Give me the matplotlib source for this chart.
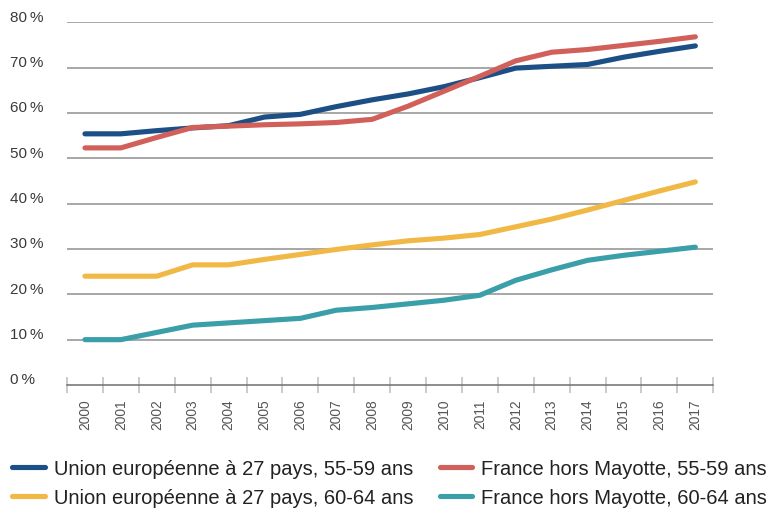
import matplotlib
matplotlib.use("Agg")
import matplotlib.pyplot as plt
from matplotlib import transforms

years = [str(y) for y in range(2000, 2018)]
eu_55_59 = [55.4, 55.4, 56.1, 56.7, 57.2, 59.1, 59.7, 61.4, 62.9, 64.2, 65.8, 67.8, 69.9, 70.3, 70.7, 72.3, 73.6, 74.8]
fr_55_59 = [52.3, 52.3, 54.6, 56.8, 57.1, 57.4, 57.6, 57.9, 58.6, 61.5, 64.8, 68.1, 71.5, 73.4, 74.0, 74.9, 75.8, 76.8]
eu_60_64 = [24.0, 24.0, 24.0, 26.5, 26.5, 27.7, 28.8, 29.9, 30.9, 31.8, 32.4, 33.2, 34.9, 36.6, 38.6, 40.7, 42.8, 44.8]
fr_60_64 = [10.0, 10.0, 11.6, 13.2, 13.7, 14.2, 14.7, 16.5, 17.1, 17.9, 18.7, 19.8, 23.1, 25.4, 27.5, 28.6, 29.5, 30.4]
y_ticks = [0, 10, 20, 30, 40, 50, 60, 70, 80]
labels = ["Union européenne à 27 pays, 55-59 ans", "France hors Mayotte, 55-59 ans",
          "Union européenne à 27 pays, 60-64 ans", "France hors Mayotte, 60-64 ans"]
colors = ["#1b4f86", "#d1605a", "#f2b846", "#3a9fa9"]

FONT = ["Liberation Sans", "DejaVu Sans"]

W, H = 770, 510
fig = plt.figure(figsize=(W / 100, H / 100), dpi=100)
ax = fig.add_axes([67 / W, 1 - 386 / H, (713.3 - 67) / W, (386 - 23.3) / H])

x = list(range(len(years)))
series = [eu_55_59, fr_55_59, eu_60_64, fr_60_64]
handles = []
for vals, col, lab in zip(series, colors, labels):
    ln, = ax.plot(x, vals, color=col, lw=3.7, solid_capstyle="round",
                  solid_joinstyle="round", label=lab, zorder=3)
    handles.append(ln)

ax.set_xlim(-0.5, len(years) - 0.5)
ax.set_ylim(0, 80)

# grid lines
for v in y_ticks[1:]:
    ax.axhline(v, color="#8f8f8f", lw=1.1, zorder=1)

for s in ["top", "right", "left"]:
    ax.spines[s].set_visible(False)
ax.spines["bottom"].set_color("#6e6e6e")
ax.spines["bottom"].set_linewidth(1.1)
ax.spines["bottom"].set_zorder(2)

# x ticks: boundaries (major, unlabeled) and centers (minor, labeled)
ax.set_xticks([i - 0.5 for i in range(len(years) + 1)])
ax.set_xticklabels([])
ax.tick_params(axis="x", which="major", direction="inout", length=11.5,
               width=1.1, color="#bdbdbd")
ax.set_xticks(x, minor=True)
ax.set_xticklabels(years, minor=True, rotation=90, fontsize=9.9,
                   family=FONT, color="#555555", va="top", ha="center")
ax.tick_params(axis="x", which="minor", length=0, pad=9.5)

# y labels drawn manually, left aligned at x=10px
ax.set_yticks([])
trans = transforms.blended_transform_factory(fig.transFigure, ax.transData)
trans = trans + transforms.ScaledTranslation(0, 4 / 72, fig.dpi_scale_trans)
for v in y_ticks:
    ax.text(10 / W, v, f"{v}\u2009%", transform=trans, ha="left", va="center",
            fontsize=11, family=FONT, color="#3a3a3a")

# legends
leg_kw = dict(frameon=False, prop={"family": FONT, "size": 14.5},
              handlelength=1.6, handletextpad=0.47, labelspacing=0.48,
              borderpad=0, borderaxespad=0, loc="upper left")
leg1 = fig.legend([handles[0], handles[2]], [labels[0], labels[2]],
                  bbox_to_anchor=(12.5 / W, 1 - 460.5 / H), **leg_kw)
leg2 = fig.legend([handles[1], handles[3]], [labels[1], labels[3]],
                  bbox_to_anchor=(439.5 / W, 1 - 460.5 / H), **leg_kw)
for leg in (leg1, leg2):
    for t in leg.get_texts():
        t.set_color("#222222")
    for h in leg.legend_handles:
        h.set_linewidth(3.7)
        h.set_solid_capstyle("round")

fig.savefig("out.png", dpi=100)
